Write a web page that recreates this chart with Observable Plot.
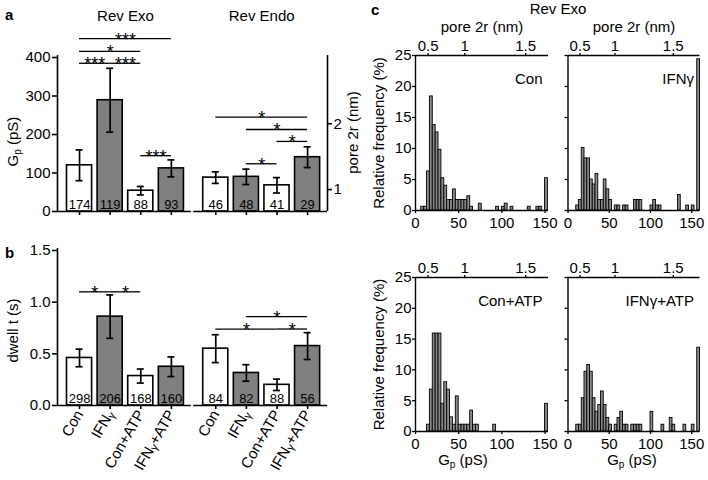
<!DOCTYPE html>
<html><head><meta charset="utf-8">
<script src="https://cdn.jsdelivr.net/npm/d3@7"></script>
<script src="https://cdn.jsdelivr.net/npm/@observablehq/plot@0.6"></script>
<style>
body{margin:0;background:#fff;}
#root{position:relative;width:708px;height:480px;overflow:hidden;font-family:"Liberation Sans",Arial,Helvetica,sans-serif;}
.lbl{position:absolute;font-size:15px;line-height:15px;white-space:nowrap;color:#000;}
</style></head><body><div id="root"></div>
<script>
// ---------------- data ----------------
const categories = ["Con", "IFNγ", "Con+ATP", "IFNγ+ATP"];
const groups = ["Rev Exo", "Rev Endo"];
const barFills = ["#ffffff", "#808080", "#ffffff", "#808080"];

// panel a: pore conductance Gp (pS)
const gpExo = [120, 289, 54, 112];
const gpExoErr = [40, 83, 11, 22];
const gpExoN = [174, 119, 88, 93];
const gpEndo = [88, 90, 68, 141];
const gpEndoErr = [15, 20, 20, 27];
const gpEndoN = [46, 48, 41, 29];
const gpTicks = [0, 100, 200, 300, 400];
const poreAxisG = [57, 228];
const poreAxisLabels = ["1", "2"];
// significance brackets: [group, from, to, level, stars]
const gpSig = [[0,0,3,449,"***"],[0,0,2,416,"*"],[0,0,1,385,"***"],[0,1,2,385,"***"],[0,2,3,145,"***"],
               [1,0,3,245,"*"],[1,1,3,213,"*"],[1,2,3,182,"*"],[1,1,2,124,"*"]];

// panel b: dwell time (s)
const dwellExo = [0.46, 0.86, 0.285, 0.375];
const dwellExoErr = [0.085, 0.21, 0.068, 0.095];
const dwellExoN = [298, 206, 168, 160];
const dwellEndo = [0.55, 0.315, 0.2, 0.575];
const dwellEndoErr = [0.135, 0.08, 0.055, 0.13];
const dwellEndoN = [84, 82, 88, 56];
const dwellTicks = [0, 0.5, 1, 1.5];
const dwellSig = [[0,0,1,1.10,"*"],[0,1,2,1.10,"*"],[1,1,3,0.86,"*"],[1,0,2,0.74,"*"],[1,2,3,0.74,"*"]];

// panel c: histograms (bin index k covers [k*binWidth, (k+1)*binWidth) pS), relative frequency %
const binWidth = 10 / 3;
const hConBins = [2,3,4,5,6,7,8,9,10,11,12,13,14,15,16,17,18,19,22,28,30,31,33,39,42,43,45];
const hConPct  = [0.6,0.6,6.3,18.4,13.8,12.6,9.8,5.2,4.0,1.7,1.7,3.4,1.7,1.7,1.7,1.7,2.3,0.6,1.1,0.6,0.6,1.1,0.6,0.6,0.6,0.6,5.2];
const hIfnBins = [3,4,5,6,7,8,9,10,11,12,13,14,15,17,18,20,21,24,25,26,30,31,32,33,40,43,45,47];
const hIfnPct  = [0.8,1.7,10.1,8.4,8.4,5.0,4.2,5.9,1.7,1.7,5.0,3.4,1.7,0.8,0.8,0.8,0.8,1.7,1.7,1.7,0.8,1.7,0.8,0.8,2.5,0.8,0.8,24.4];
const hConAtpBins = [4,5,6,7,8,9,10,11,12,13,14,15,16,17,18,19,20,21,27,45];
const hConAtpPct  = [1.1,6.8,15.9,15.9,15.9,4.5,8.0,6.8,2.3,1.1,5.7,1.1,1.1,1.1,1.1,3.4,1.1,1.1,1.1,4.5];
const hIfnAtpBins = [3,4,5,6,7,8,9,10,11,12,13,14,15,17,18,19,20,21,23,24,25,26,30,34,37,38,42,45,47];
const hIfnAtpPct  = [1.1,1.1,5.4,9.7,10.8,9.7,5.4,3.2,4.3,6.5,4.3,2.2,1.1,1.1,2.2,3.2,1.1,1.1,1.1,1.1,1.1,1.1,3.2,1.1,2.2,1.1,1.1,1.1,13.6];
const histTicksX = [0, 50, 100, 150];
const histTicksY = [0, 5, 10, 15, 20, 25];
const poreTickLabels = ["0.5", "1", "1.5"];
const poreTickG = [14.6, 57, 127.6];

// ---------------- helpers ----------------
const FONT = '"Liberation Sans", Arial, Helvetica, sans-serif';
const root = document.getElementById("root");
const baseStyle = {fontFamily: FONT, fontSize: "15px", background: "none", overflow: "visible", color: "black"};
function place(svg, left, top) {
  svg.style.position = "absolute";
  svg.style.left = left + "px";
  svg.style.top = top + "px";
  root.appendChild(svg);
}
function label(text, left, top, extra) {
  const d = document.createElement("div");
  d.className = "lbl";
  d.textContent = text;
  d.style.left = left + "px";
  d.style.top = top + "px";
  if (extra) Object.assign(d.style, extra);
  root.appendChild(d);
}
function subscriptG(svg) {
  d3.select(svg).selectAll("text").filter(function () { return this.textContent === "Gp (pS)"; }).each(function () {
    const t = d3.select(this); t.text(null);
    t.append("tspan").text("G");
    t.append("tspan").attr("font-size", "10px").attr("dy", "3").text("p");
    t.append("tspan").attr("dy", "-3").text(" (pS)");
  });
}
function smallGamma(svg) {
  d3.select(svg).selectAll("text").filter(function () { return this.textContent.includes("γ") && this.childElementCount === 0; }).each(function () {
    const parts = this.textContent.split("γ");
    const t = d3.select(this); t.text(null);
    t.append("tspan").text(parts[0]);
    t.append("tspan").attr("font-size", "11px").attr("dy", "2").text("γ");
    if (parts[1]) t.append("tspan").attr("dy", "-2").text(parts[1]);
  });
}

const shift = 4.45;
const pos = (g, i) => g * shift + i;
const xDomainBars = [-0.72, 8.1];
const barTickPos = groups.flatMap((grp, g) => categories.map((c, i) => pos(g, i)));
const barTickName = new Map(groups.flatMap((grp, g) => categories.map((c, i) => [pos(g, i), c])));

function rowsFrom(vals, errs, ns) {
  return groups.flatMap((grp, g) => categories.map((cat, i) => ({grp, g, cat, i, x: pos(g, i), v: vals[g][i], e: errs[g][i], n: ns[g][i]})));
}
function sigRows(sig) {
  return sig.map(([g, a, b, level, stars]) => ({x1: pos(g, a), x2: pos(g, b), level, stars}));
}
function barMarks(rows, sig, yTop) {
  return [
    Plot.rect(rows, {x1: d => d.x - 0.41, x2: d => d.x + 0.41, y1: () => 0, y2: "v", fill: "cat", stroke: "black", strokeWidth: 1.6}),
    Plot.ruleX(rows, {x: "x", y1: d => d.v - d.e, y2: d => d.v + d.e, stroke: "black", strokeWidth: 1.7}),
    Plot.ruleY(rows, {y: d => d.v + d.e, x1: d => d.x - 0.115, x2: d => d.x + 0.115, strokeWidth: 1.7}),
    Plot.ruleY(rows, {y: d => d.v - d.e, x1: d => d.x - 0.115, x2: d => d.x + 0.115, strokeWidth: 1.7}),
    Plot.text(rows, {x: "x", y: () => 0, text: d => String(d.n), dy: -3, lineAnchor: "bottom", fontSize: 13}),
    Plot.ruleY(sig, {y: "level", x1: "x1", x2: "x2", strokeWidth: 1.3}),
    Plot.text(sig, {x: d => (d.x1 + d.x2) / 2, y: "level", text: "stars", dy: 7, lineAnchor: "bottom", fontSize: 18}),
    Plot.ruleY(groups, {y: () => 0, x1: (d, i) => pos(i, 0) - 0.72, x2: (d, i) => pos(i, 0) + 3.65, strokeWidth: 1.6}),
    Plot.ruleX([xDomainBars[0]], {y1: () => 0, y2: () => yTop, strokeWidth: 1.6})
  ];
}

// ---------------- panel a ----------------
const plotA = Plot.plot({
  width: 370, height: 215, marginLeft: 57, marginRight: 43, marginTop: 57, marginBottom: 4,
  x: {domain: xDomainBars},
  y: {domain: [0, 400]},
  color: {domain: categories, range: barFills},
  style: baseStyle,
  marks: [
    ...barMarks(rowsFrom([gpExo, gpEndo], [gpExoErr, gpEndoErr], [gpExoN, gpEndoN]), sigRows(gpSig), 405),
    Plot.ruleX([xDomainBars[1]], {y1: () => 0, y2: () => 405, strokeWidth: 1.6}),
    Plot.axisY({anchor: "left", ticks: gpTicks, tickSize: 5, tickPadding: 2, label: null, strokeWidth: 1.6}),
    Plot.axisY({anchor: "right", ticks: poreAxisG, tickFormat: d => poreAxisLabels[poreAxisG.indexOf(d)], tickSize: 4, tickPadding: 2, label: null, strokeWidth: 1.6}),
    Plot.axisX({ticks: barTickPos, tickFormat: () => "", tickSize: 4, label: null, strokeWidth: 1.6}),
    Plot.text(groups, {x: (d, i) => pos(i, 1.5), frameAnchor: "top", dy: -47}),
    Plot.text(["Gp (pS)"], {frameAnchor: "left", textAnchor: "middle", dx: -44.5, dy: 7, rotate: -90}),
    Plot.text(["pore 2r (nm)"], {frameAnchor: "right", textAnchor: "middle", dx: 25.5, dy: -2, rotate: -90})
  ]
});
subscriptG(plotA);
place(plotA, 0, 0);

// ---------------- panel b ----------------
const plotB = Plot.plot({
  width: 370, height: 265, marginLeft: 57, marginRight: 43, marginTop: 35, marginBottom: 75,
  x: {domain: xDomainBars},
  y: {domain: [0, 1.5]},
  color: {domain: categories, range: barFills},
  style: baseStyle,
  marks: [
    ...barMarks(rowsFrom([dwellExo, dwellEndo], [dwellExoErr, dwellEndoErr], [dwellExoN, dwellEndoN]), sigRows(dwellSig), 1.52),
    Plot.axisY({anchor: "left", ticks: dwellTicks, tickFormat: d3.format(".1f"), tickSize: 5, tickPadding: 2, label: null, strokeWidth: 1.6}),
    Plot.axisX({ticks: barTickPos, tickFormat: d => barTickName.get(d), tickRotate: -60, tickSize: 4, tickPadding: 2, label: null, strokeWidth: 1.6}),
    Plot.text(["dwell t (s)"], {frameAnchor: "left", textAnchor: "middle", dx: -44.5, dy: 2.5, rotate: -90})
  ]
});
smallGamma(plotB);
place(plotB, 0, 215);

// ---------------- panel c ----------------
function hist({bins, pct, xMax, name, left, top, width, height, mLeft, mRight, mTop, mBottom, yLabels, topTitle, bottomTitle, titleDx, xPad}) {
  const rows = bins.map((k, j) => ({k, p: pct[j]}));
  const marks = [
    Plot.rect(rows, {x1: d => d.k * binWidth, x2: d => (d.k + 1) * binWidth, y1: () => 0, y2: "p", fill: "#8a8a8a", stroke: "black", strokeWidth: 0.9}),
    Plot.ruleY([0], {strokeWidth: 1.4}),
    Plot.ruleY([25], {strokeWidth: 1.4}),
    Plot.ruleX([0], {y1: () => 0, y2: () => 25, strokeWidth: 1.4}),
    Plot.axisY({anchor: "left", ticks: histTicksY, tickFormat: yLabels ? (d => String(d)) : (() => ""), tickSize: 3, tickPadding: 1, label: null, strokeWidth: 1.3}),
    Plot.axisX({anchor: "bottom", ticks: histTicksX, tickSize: 3, tickPadding: xPad, label: null, strokeWidth: 1.3}),
    Plot.axisX({anchor: "top", ticks: poreTickG, tickFormat: d => poreTickLabels[poreTickG.indexOf(d)], tickSize: 3, tickPadding: 2, label: null, strokeWidth: 1.3}),
    Plot.text([name], {frameAnchor: "top-right", dx: -6, dy: 18, textAnchor: "end"})
  ];
  if (yLabels) marks.push(Plot.text(["Relative frequency (%)"], {frameAnchor: "left", textAnchor: "middle", dx: -36, rotate: -90}));
  if (topTitle) marks.push(Plot.text(["pore 2r (nm)"], {frameAnchor: "top", textAnchor: "middle", dy: -34.5}));
  if (bottomTitle) marks.push(Plot.text(["Gp (pS)"], {frameAnchor: "bottom", textAnchor: "middle", dx: titleDx, dy: 33.5}));
  const p = Plot.plot({
    width, height, marginLeft: mLeft, marginRight: mRight, marginTop: mTop, marginBottom: mBottom,
    x: {domain: [0, xMax]}, y: {domain: [0, 25]},
    style: baseStyle,
    marks
  });
  subscriptG(p);
  place(p, left, top);
}
hist({bins: hConBins, pct: hConPct, xMax: 154, name: "Con", left: 370, top: 0, width: 182, height: 232,
      mLeft: 45, mRight: 4, mTop: 55, mBottom: 22, yLabels: true, topTitle: true, xPad: 4});
hist({bins: hIfnBins, pct: hIfnPct, xMax: 160, name: "IFNγ", left: 552, top: 0, width: 156, height: 232,
      mLeft: 15.5, mRight: 8.5, mTop: 55, mBottom: 22, yLabels: false, topTitle: true, xPad: 4});
hist({bins: hConAtpBins, pct: hConAtpPct, xMax: 154, name: "Con+ATP", left: 370, top: 232, width: 182, height: 248,
      mLeft: 45, mRight: 4, mTop: 45, mBottom: 49, yLabels: true, bottomTitle: true, titleDx: -19, xPad: 4});
hist({bins: hIfnAtpBins, pct: hIfnAtpPct, xMax: 160, name: "IFNγ+ATP", left: 552, top: 232, width: 156, height: 248,
      mLeft: 15.5, mRight: 8.5, mTop: 45, mBottom: 49, yLabels: false, bottomTitle: true, titleDx: -2, xPad: 4});

// ---------------- panel letters and titles ----------------
label("a", 5, 7, {fontWeight: "bold"});
label("b", 5, 245, {fontWeight: "bold"});
label("c", 371, 2, {fontWeight: "bold"});
label("Rev Exo", 558, 1, {transform: "translateX(-50%)"});
</script>
</body></html>
